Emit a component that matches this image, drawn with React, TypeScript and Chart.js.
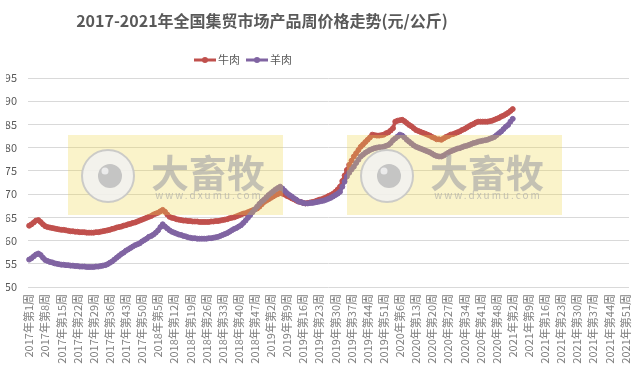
import React, { useEffect, useRef } from 'react';
import { Chart, registerables } from 'chart.js';

Chart.register(...registerables);

const FONT = '"Noto Sans CJK SC", "Noto Sans", sans-serif';

const titleText = '2017-2021年全国集贸市场产品周价格走势(元/公斤)';
const seriesNames = ['牛肉', '羊肉'];
const seriesColors = ['#C0504D', '#8064A2'];

const yearWeeks: [number, number][] = [
  [2017, 52],
  [2018, 52],
  [2019, 52],
  [2020, 53],
  [2021, 52],
];
const categories: string[] = [];
for (const [yr, n] of yearWeeks) {
  for (let w = 1; w <= n; w++) categories.push(`${yr}年第${w}周`);
}
const tickEvery = 7;

const yMin = 50;
const yMax = 95;
const yStep = 5;

// 牛肉
const beef = [
  63.2, 63.5, 63.9, 64.3, 64.4, 64.0, 63.5, 63.1, 62.9, 62.8,
  62.7, 62.6, 62.5, 62.4, 62.3, 62.3, 62.2, 62.1, 62.0, 62.0,
  61.9, 61.9, 61.8, 61.8, 61.8, 61.7, 61.7, 61.7, 61.7, 61.8,
  61.8, 61.9, 62.0, 62.1, 62.2, 62.3, 62.5, 62.6, 62.8, 62.9,
  63.0, 63.2, 63.3, 63.5, 63.6, 63.8, 63.9, 64.1, 64.3, 64.5,
  64.7, 64.9, 65.1, 65.3, 65.6, 65.8, 66.0, 66.3, 66.6, 66.2,
  65.6, 65.1, 64.9, 64.8, 64.6, 64.5, 64.4, 64.3, 64.3, 64.2,
  64.2, 64.1, 64.1, 64.1, 64.0, 64.0, 64.0, 64.0, 64.0, 64.1,
  64.1, 64.2, 64.2, 64.3, 64.4, 64.5, 64.6, 64.8, 64.9, 65.0,
  65.2, 65.4, 65.6, 65.8, 65.9, 66.1, 66.3, 66.5, 66.7, 66.9,
  67.3, 67.8, 68.3, 68.6, 68.9, 69.2, 69.5, 69.8, 70.0, 70.3,
  70.1, 69.9, 69.6, 69.4, 69.1, 68.9, 68.6, 68.4, 68.3, 68.1,
  68.0, 68.1, 68.2, 68.3, 68.4, 68.6, 68.8, 68.9, 69.1, 69.3,
  69.6, 69.8, 70.1, 70.5, 71.0, 71.6, 72.8, 74.0, 75.2, 76.3,
  77.2, 78.1, 78.8, 79.5, 80.2, 80.7, 81.2, 81.7, 82.2, 82.8,
  82.7, 82.6, 82.6, 82.7, 82.8, 83.1, 83.3, 83.7, 84.2, 85.6,
  85.8, 85.9, 86.0, 85.7, 85.3, 84.9, 84.6, 84.2, 83.8, 83.6,
  83.4, 83.2, 83.0, 82.8, 82.6, 82.3, 82.1, 81.8, 81.8, 81.7,
  82.0, 82.3, 82.5, 82.8, 82.9, 83.1, 83.3, 83.5, 83.8, 84.0,
  84.3, 84.6, 84.9, 85.1, 85.4, 85.6, 85.6, 85.6, 85.6, 85.6,
  85.7, 85.8, 86.0, 86.2, 86.4, 86.7, 86.9, 87.2, 87.5, 87.9, 88.3,
];

// 羊肉
const lamb = [
  55.9, 56.2, 56.6, 57.0, 57.2, 56.9, 56.3, 55.8, 55.6, 55.4,
  55.3, 55.1, 55.0, 54.9, 54.8, 54.8, 54.7, 54.7, 54.6, 54.6,
  54.5, 54.5, 54.4, 54.4, 54.4, 54.3, 54.3, 54.3, 54.3, 54.4,
  54.4, 54.5, 54.6, 54.7, 54.9, 55.2, 55.5, 55.9, 56.3, 56.7,
  57.1, 57.4, 57.8, 58.1, 58.4, 58.7, 59.0, 59.2, 59.4, 59.8,
  60.1, 60.4, 60.8, 61.0, 61.3, 61.7, 62.2, 62.9, 63.5, 63.0,
  62.6, 62.2, 61.9, 61.7, 61.5, 61.3, 61.2, 61.0, 60.9, 60.7,
  60.6, 60.5, 60.5, 60.4, 60.4, 60.4, 60.4, 60.4, 60.5, 60.5,
  60.6, 60.7, 60.8, 61.0, 61.2, 61.4, 61.6, 61.9, 62.2, 62.5,
  62.7, 63.0, 63.3, 63.8, 64.3, 64.9, 65.5, 66.1, 66.7, 67.3,
  67.9, 68.4, 68.8, 69.3, 69.8, 70.2, 70.6, 71.0, 71.3, 71.6,
  71.2, 70.7, 70.2, 69.8, 69.5, 69.1, 68.8, 68.4, 68.3, 68.1,
  68.0, 68.0, 68.1, 68.1, 68.2, 68.3, 68.4, 68.5, 68.6, 68.8,
  69.0, 69.2, 69.5, 69.8, 70.1, 70.5, 71.6, 72.7, 73.8, 74.6,
  75.3, 75.9, 76.7, 77.4, 78.1, 78.5, 78.9, 79.2, 79.5, 79.7,
  79.9, 80.0, 80.1, 80.1, 80.2, 80.4, 80.6, 81.0, 81.6, 82.0,
  82.4, 82.8, 82.6, 82.2, 81.7, 81.3, 80.9, 80.5, 80.2, 80.0,
  79.8, 79.6, 79.4, 79.2, 79.0, 78.7, 78.4, 78.2, 78.1, 78.1,
  78.3, 78.6, 78.9, 79.2, 79.4, 79.6, 79.8, 79.9, 80.1, 80.3,
  80.4, 80.6, 80.8, 81.0, 81.1, 81.3, 81.4, 81.5, 81.6, 81.7,
  81.9, 82.1, 82.3, 82.7, 83.1, 83.5, 84.0, 84.5, 84.9, 85.6, 86.2,
];

const watermarkBoxes = [
  { x: 68, y: 135, w: 215, h: 80 },
  { x: 347, y: 135, w: 215, h: 80 },
];

const titlePlugin = {
  id: 'customTitle',
  afterDraw(chart: any) {
    const ctx = chart.ctx;
    ctx.save();
    ctx.font = `bold 16px ${FONT}`;
    ctx.fillStyle = '#595959';
    ctx.textAlign = 'center';
    ctx.textBaseline = 'middle';
    ctx.fillText(titleText, 262, 21);
    ctx.restore();
  },
};

const legendPlugin = {
  id: 'customLegend',
  afterDraw(chart: any) {
    const ctx = chart.ctx;
    ctx.save();
    ctx.font = `11px ${FONT}`;
    ctx.textBaseline = 'middle';
    ctx.textAlign = 'left';
    const y = 60;
    const starts = [194, 246];
    seriesNames.forEach((name, i) => {
      const x0 = starts[i];
      ctx.strokeStyle = seriesColors[i];
      ctx.lineWidth = 3;
      ctx.beginPath();
      ctx.moveTo(x0, y);
      ctx.lineTo(x0 + 22, y);
      ctx.stroke();
      ctx.fillStyle = seriesColors[i];
      ctx.beginPath();
      ctx.arc(x0 + 11, y, 3, 0, Math.PI * 2);
      ctx.fill();
      ctx.fillStyle = '#595959';
      ctx.fillText(name, x0 + 24, y);
    });
    ctx.restore();
  },
};

const watermarkPlugin = {
  id: 'watermark',
  afterDatasetsDraw(chart: any) {
    const ctx = chart.ctx;
    ctx.save();
    for (const b of watermarkBoxes) {
      ctx.fillStyle = 'rgba(240,215,80,0.3)';
      ctx.fillRect(b.x, b.y, b.w, b.h);
      const cx = b.x + 40;
      const cy = b.y + 41;
      ctx.globalAlpha = 0.85;
      ctx.fillStyle = '#f2f2f2';
      ctx.beginPath();
      ctx.arc(cx, cy, 26, 0, Math.PI * 2);
      ctx.fill();
      ctx.strokeStyle = '#c4c4c4';
      ctx.lineWidth = 2;
      ctx.stroke();
      ctx.fillStyle = '#bdbdbd';
      ctx.beginPath();
      ctx.arc(cx + 2, cy, 12, 0, Math.PI * 2);
      ctx.fill();
      ctx.fillStyle = '#f2f2f2';
      ctx.beginPath();
      ctx.arc(cx - 3, cy - 5, 3.5, 0, Math.PI * 2);
      ctx.fill();
      ctx.globalAlpha = 0.65;
      ctx.fillStyle = '#a8a8a8';
      ctx.textAlign = 'center';
      ctx.textBaseline = 'alphabetic';
      ctx.font = `bold 38px ${FONT}`;
      ctx.fillText('大畜牧', b.x + 140, b.y + 52);
      ctx.font = `10px ${FONT}`;
      try { (ctx as any).letterSpacing = '2px'; } catch (e) {}
      ctx.fillText('www.dxumu.com', b.x + 141, b.y + 64);
      try { (ctx as any).letterSpacing = '0px'; } catch (e) {}
      ctx.globalAlpha = 1;
    }
    ctx.restore();
  },
};

export default function App() {
  const ref = useRef<HTMLCanvasElement | null>(null);
  useEffect(() => {
    if (!ref.current) return;
    const chart = new Chart(ref.current, {
      type: 'line',
      data: {
        labels: categories,
        datasets: [
          {
            label: seriesNames[0],
            data: beef,
            borderColor: seriesColors[0],
            backgroundColor: seriesColors[0],
            borderWidth: 3.5,
            pointRadius: 2.5,
            pointBorderWidth: 1,
            pointBackgroundColor: seriesColors[0],
            pointBorderColor: seriesColors[0],
            tension: 0,
            order: 1,
          },
          {
            label: seriesNames[1],
            data: lamb,
            borderColor: seriesColors[1],
            backgroundColor: seriesColors[1],
            borderWidth: 3.5,
            pointRadius: 2.5,
            pointBorderWidth: 1,
            pointBackgroundColor: seriesColors[1],
            pointBorderColor: seriesColors[1],
            tension: 0,
            order: 0,
          },
        ],
      },
      options: {
        animation: false,
        responsive: false,
        devicePixelRatio: 1,
        layout: { padding: { left: 6, right: 6, top: 78, bottom: 0 } },
        plugins: {
          legend: { display: false },
          title: { display: false },
          tooltip: { enabled: false },
        },
        scales: {
          x: {
            type: 'category',
            offset: true,
            grid: { display: false, drawTicks: false },
            border: { display: false },
            ticks: {
              autoSkip: false,
              maxRotation: 90,
              minRotation: 90,
              padding: 7,
              color: '#7f7f7f',
              font: { size: 11, family: FONT },
              callback: (_v: any, i: number) => (i % tickEvery === 0 ? categories[i] : ''),
            },
            afterFit: (s: any) => {
              s.height = 86;
              s.paddingLeft = 0;
              s.paddingRight = 0;
            },
          },
          y: {
            min: yMin,
            max: yMax,
            ticks: {
              stepSize: yStep,
              color: '#595959',
              font: { size: 11, family: FONT },
              padding: 11,
            },
            grid: { color: '#d9d9d9', drawTicks: false, lineWidth: 1 },
            border: { display: false },
            afterFit: (s: any) => {
              s.width = 22;
              s.paddingTop = 0;
              s.paddingBottom = 0;
            },
          },
        },
      },
      plugins: [titlePlugin, legendPlugin, watermarkPlugin],
    } as any);
    return () => chart.destroy();
  }, []);
  return (
    <div style={{ position: 'fixed', left: 0, top: 0, width: 635, height: 373, background: '#fff' }}>
      <canvas ref={ref} width={635} height={373} style={{ width: 635, height: 373, display: 'block' }} />
    </div>
  );
}
